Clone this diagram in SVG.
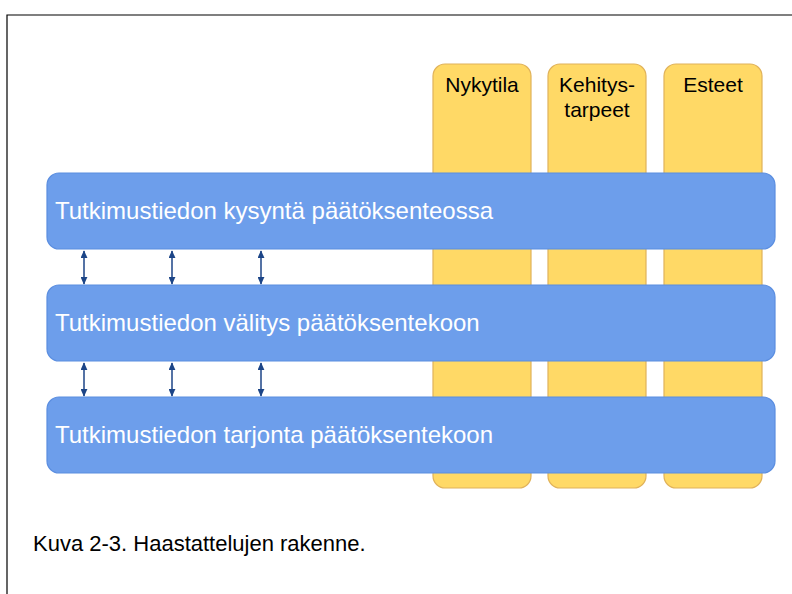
<svg xmlns="http://www.w3.org/2000/svg" width="792" height="594" viewBox="0 0 792 594">
  <style>
    .col { fill: #ffd966; stroke: #e0b25a; stroke-width: 1.2; }
    .bar { fill: #6d9eeb; stroke: #5b8ee0; stroke-width: 1.2; }
    .collabel { font-family: "Liberation Sans", Arial, sans-serif; font-size: 21px; fill: #000; text-anchor: middle; }
    .barlabel { font-family: "Liberation Sans", Arial, sans-serif; font-size: 24px; fill: #ffffff; }
    .caption { font-family: "Liberation Sans", Arial, sans-serif; font-size: 22px; fill: #000; }
    .link { stroke: #1c4587; stroke-width: 1.5; fill: none; marker-start: url(#head); marker-end: url(#head); }
  </style>
  <defs>
    <marker id="head" viewBox="0 0 10 10" refX="9" refY="5" markerWidth="8" markerHeight="7" orient="auto-start-reverse" markerUnits="userSpaceOnUse" preserveAspectRatio="none">
      <path d="M0,0 L10,5 L0,10 z" fill="#1c4587"/>
    </marker>
  </defs>

  <rect x="0" y="0" width="792" height="594" fill="#ffffff"/>
  <!-- page frame -->
  <path d="M7,594 L7,15 L792,15" fill="none" stroke="#000" stroke-width="1.2"/>

  <!-- vertical category columns -->
  <g id="col-nykytila">
    <rect class="col" x="433" y="64" width="98" height="424" rx="12"/>
    <text class="collabel" x="482" y="92">Nykytila</text>
  </g>
  <g id="col-kehitystarpeet">
    <rect class="col" x="548" y="64" width="98" height="424" rx="12"/>
    <text class="collabel" x="597" y="92">Kehitys-</text>
    <text class="collabel" x="597" y="117">tarpeet</text>
  </g>
  <g id="col-esteet">
    <rect class="col" x="664" y="64" width="98" height="424" rx="12"/>
    <text class="collabel" x="713" y="92">Esteet</text>
  </g>

  <!-- horizontal layers -->
  <g id="bar-kysynta">
    <rect class="bar" x="47" y="173" width="728" height="76" rx="12"/>
    <text class="barlabel" x="55" y="219">Tutkimustiedon kysyntä päätöksenteossa</text>
  </g>
  <g id="bar-valitys">
    <rect class="bar" x="47" y="285" width="728" height="76" rx="12"/>
    <text class="barlabel" x="55" y="331">Tutkimustiedon välitys päätöksentekoon</text>
  </g>
  <g id="bar-tarjonta">
    <rect class="bar" x="47" y="397" width="728" height="76" rx="12"/>
    <text class="barlabel" x="55" y="443">Tutkimustiedon tarjonta päätöksentekoon</text>
  </g>

  <!-- two-way links between layers -->
  <g id="connectors">
    <line class="link" x1="84" y1="251" x2="84" y2="284"/>
    <line class="link" x1="172" y1="251" x2="172" y2="284"/>
    <line class="link" x1="261" y1="251" x2="261" y2="284"/>
    <line class="link" x1="84" y1="363" x2="84" y2="396"/>
    <line class="link" x1="172" y1="363" x2="172" y2="396"/>
    <line class="link" x1="261" y1="363" x2="261" y2="396"/>
  </g>

  <text class="caption" x="33" y="551">Kuva 2-3. Haastattelujen rakenne.</text>
</svg>
